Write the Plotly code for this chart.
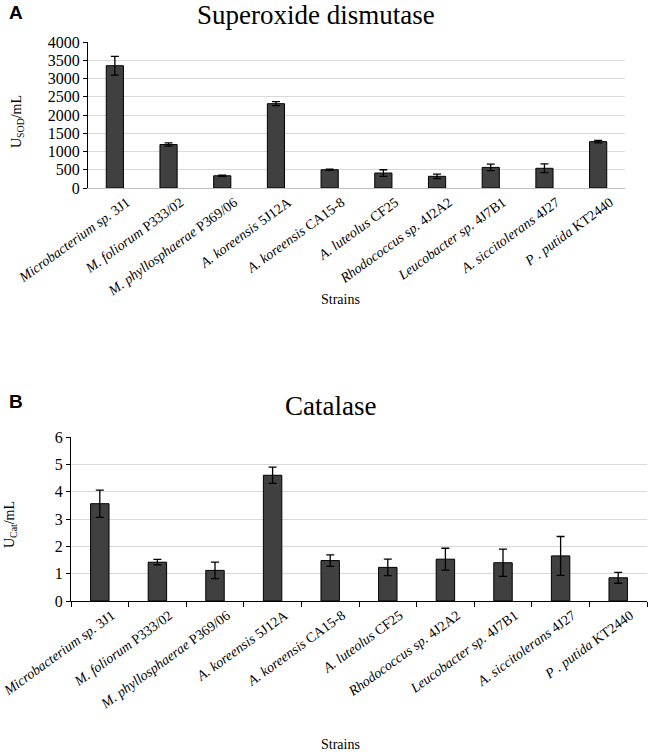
import plotly.graph_objects as go

strains = [
    "<i>Microbacterium sp.</i> 3J1",
    "<i>M. foliorum</i> P333/02",
    "<i>M. phyllosphaerae</i> P369/06",
    "<i>A. koreensis</i> 5J12A",
    "<i>A. koreensis</i> CA15-8",
    "<i>A. luteolus</i> CF25",
    "<i>Rhodococcus sp.</i> 4J2A2",
    "<i>Leucobacter sp.</i> 4J7B1",
    "<i>A. siccitolerans</i> 4J27",
    "<i>P . putida</i> KT2440",
]
sod_values = [3350, 1190, 335, 2310, 500, 410, 320, 565, 540, 1270]
sod_errors = [255, 45, 15, 55, 15, 90, 60, 90, 120, 35]
cat_values = [3.56, 1.42, 1.12, 4.60, 1.48, 1.23, 1.53, 1.40, 1.65, 0.85]
cat_errors = [0.50, 0.10, 0.30, 0.30, 0.21, 0.30, 0.40, 0.50, 0.71, 0.20]
sod_ticks = [0, 500, 1000, 1500, 2000, 2500, 3000, 3500, 4000]
cat_ticks = [0, 1, 2, 3, 4, 5, 6]

W, H = 650, 753
serif = "Liberation Serif, Times New Roman, serif"
barcol = "#404040"

def px(p):
    return p / W

def py(p):
    return 1 - p / H

fig = go.Figure()
fig.add_trace(go.Bar(
    x=strains, y=sod_values, xaxis="x", yaxis="y",
    marker=dict(color=barcol, line=dict(color="black", width=1)),
    width=0.32,
    error_y=dict(type="data", array=sod_errors, color="black", thickness=1.3, width=4),
    showlegend=False,
))
fig.add_trace(go.Bar(
    x=strains, y=cat_values, xaxis="x2", yaxis="y2",
    marker=dict(color=barcol, line=dict(color="black", width=1)),
    width=0.32,
    error_y=dict(type="data", array=cat_errors, color="black", thickness=1.3, width=4),
    showlegend=False,
))

tickfont = dict(family=serif, size=16, color="black")
xtickfont = dict(family=serif, size=14, color="black")

fig.update_layout(
    width=W, height=H,
    margin=dict(l=0, r=0, t=0, b=0, autoexpand=False),
    paper_bgcolor="white", plot_bgcolor="white",
    xaxis=dict(domain=[px(88), px(625)], anchor="y", tickangle=-36, automargin=False,
               tickfont=xtickfont, showline=True, linecolor="#bfbfbf", linewidth=1,
               ticks="", showgrid=False, ticklabelshift=12),
    yaxis=dict(domain=[py(188), py(42)], anchor="x", range=[0, 4000], automargin=False,
               tickvals=sod_ticks, tickfont=tickfont, showline=True, linecolor="black",
               linewidth=1, ticks="outside", ticklen=4, tickcolor="black",
               showgrid=True, gridcolor="#d9d9d9", gridwidth=1, zeroline=False),
    xaxis2=dict(domain=[px(71), px(647)], anchor="y2", tickangle=-36, automargin=False,
                tickfont=xtickfont, showline=True, linecolor="black", linewidth=1,
                ticks="outside", tickson="boundaries", ticklen=5, tickcolor="black",
                showgrid=False, ticklabelshift=12),
    yaxis2=dict(domain=[py(601), py(437)], anchor="x2", range=[0, 6], automargin=False,
                tickvals=cat_ticks, tickfont=tickfont, showline=True, linecolor="black",
                linewidth=1, ticks="outside", ticklen=4, tickcolor="black",
                showgrid=True, gridcolor="#d9d9d9", gridwidth=1, zeroline=False),
)

ann = [
    dict(text="<b>A</b>", x=px(7), y=py(13), xanchor="left", yanchor="middle",
         font=dict(family="Liberation Sans, Arial, sans-serif", size=19, color="black")),
    dict(text="<b>B</b>", x=px(7), y=py(401), xanchor="left", yanchor="middle",
         font=dict(family="Liberation Sans, Arial, sans-serif", size=19, color="black")),
    dict(text="Superoxide dismutase", x=px(316), y=py(15), xanchor="center", yanchor="middle",
         font=dict(family=serif, size=27, color="black")),
    dict(text="Catalase", x=px(330), y=py(406), xanchor="center", yanchor="middle",
         font=dict(family=serif, size=27, color="black")),
    dict(text="U<sub>SOD</sub>/mL", x=px(18), y=py(122), xanchor="center", yanchor="middle",
         textangle=-90, font=dict(family=serif, size=14, color="black")),
    dict(text="U<sub>Cat</sub>/mL", x=px(10), y=py(525), xanchor="center", yanchor="middle",
         textangle=-90, font=dict(family=serif, size=14, color="black")),
    dict(text="Strains", x=px(340), y=py(299), xanchor="center", yanchor="middle",
         font=dict(family=serif, size=14, color="black")),
    dict(text="Strains", x=px(340), y=py(744), xanchor="center", yanchor="middle",
         font=dict(family=serif, size=14, color="black")),
]
for a in ann:
    a.update(xref="paper", yref="paper", showarrow=False)
fig.update_layout(annotations=ann)

fig.write_html("out.html", config={"displayModeBar": False},
               post_script="document.body.style.margin='0';")
